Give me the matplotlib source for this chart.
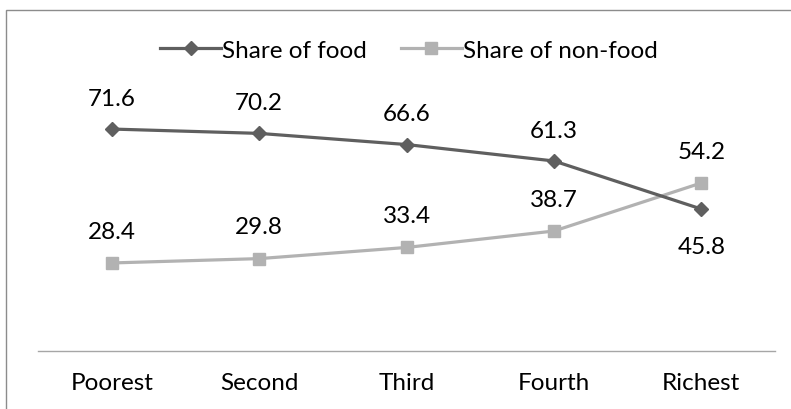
import matplotlib.pyplot as plt
from matplotlib.patches import Rectangle

# quintile groups and expenditure shares (%)
groups = ['Poorest', 'Second', 'Third', 'Fourth', 'Richest']
share_food = [71.6, 70.2, 66.6, 61.3, 45.8]
share_nonfood = [28.4, 29.8, 33.4, 38.7, 54.2]

plt.rcParams['font.family'] = ['Lato', 'DejaVu Sans']
fs = 17.5

fig = plt.figure(figsize=(7.91, 4.10), dpi=100)
ax = fig.add_axes([38 / 791, 58 / 410, 737 / 791, 279 / 410])

# outer frame (right and bottom edges fall outside the canvas)
fig.patches.append(Rectangle((6 / 791, -0.1), 1.2, (410 - 11) / 410 + 0.1,
                             transform=fig.transFigure, fill=False,
                             edgecolor='#8c8c8c', linewidth=1.0))

x = list(range(len(groups)))
food_col = '#5f5f5f'
nonfood_col = '#b2b2b2'

ax.plot(x, share_food, color=food_col, lw=2.3, marker='D', ms=7.5,
        label='Share of food', zorder=3)
ax.plot(x, share_nonfood, color=nonfood_col, lw=2.3, marker='s', ms=9,
        label='Share of non-food', zorder=2)

# value labels
for i, v in enumerate(share_food):
    dy = -27 if i == len(groups) - 1 else 22
    ax.annotate(f'{v:.1f}', (i, v), xytext=(0, dy), textcoords='offset points',
                ha='center', va='center', fontsize=fs, color='black')
for i, v in enumerate(share_nonfood):
    ax.annotate(f'{v:.1f}', (i, v), xytext=(0, 23), textcoords='offset points',
                ha='center', va='center', fontsize=fs, color='black')

ax.set_xlim(-0.5, len(groups) - 0.5)
ax.set_ylim(0, 90)
ax.set_xticks(x)
ax.set_xticklabels(groups, fontsize=fs)
ax.set_yticks([])
ax.tick_params(axis='x', length=0, pad=15)
for s in ['top', 'right', 'left']:
    ax.spines[s].set_visible(False)
ax.spines['bottom'].set_color('#a6a6a6')
ax.spines['bottom'].set_linewidth(1.0)

fig.legend(loc='center', bbox_to_anchor=(409 / 791, 1 - 51 / 410), ncol=2,
           frameon=False, fontsize=fs, handlelength=2.5, handletextpad=0.05,
           columnspacing=1.4)

fig.savefig('out.png', dpi=100)
